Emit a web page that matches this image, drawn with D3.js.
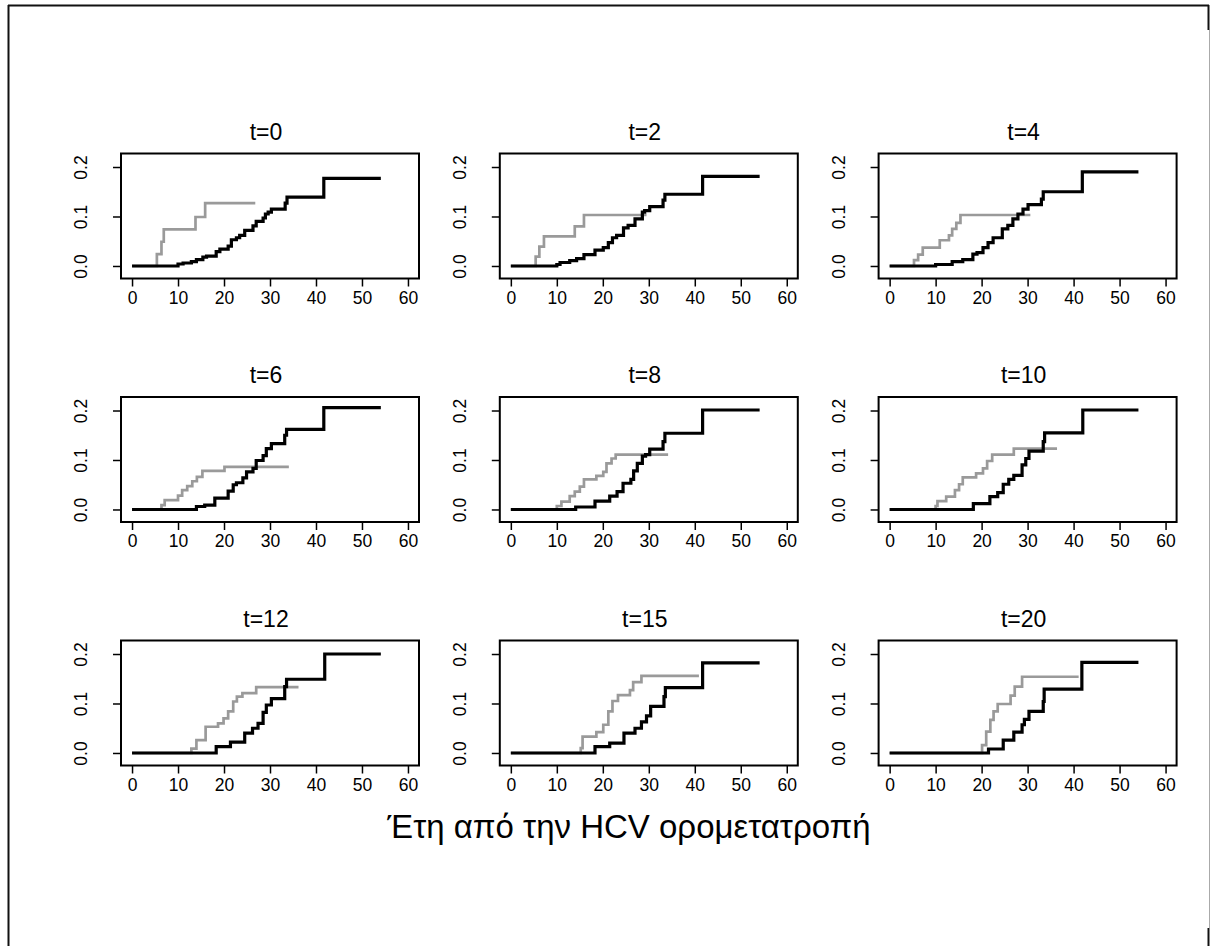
<!DOCTYPE html>
<html>
<head>
<meta charset="utf-8">
<script src="https://cdn.jsdelivr.net/npm/d3@7"></script>
<style>
  html, body { margin: 0; padding: 0; background: #fff; }
  svg { display: block; }
  text { font-family: "Liberation Sans", Arial, Helvetica, sans-serif; fill: #000; }
</style>
</head>
<body>
<svg id="chart" width="1211" height="946"></svg>
<script>
// Panel titles (time of landmark, years)
const panelTitles = ["t=0", "t=2", "t=4", "t=6", "t=8", "t=10", "t=12", "t=15", "t=20"];

// Axis ticks
const xTicks = [0, 10, 20, 30, 40, 50, 60];
const yTicks = [0.0, 0.1, 0.2];
const xLabel = "Έτη από την HCV ορομετατροπή";

// Cumulative incidence step curves: [years, probability]
// grey curve per panel
const grey_t0  = [[0,0],[5.4,0.024],[6.4,0.049],[6.9,0.074],[13.8,0.099],[15.9,0.127],[26.8,0.127]];
const grey_t2  = [[0,0],[5.4,0.019],[6.2,0.039],[7.2,0.060],[13.9,0.080],[15.9,0.103],[29.5,0.103]];
const grey_t4  = [[0,0],[5.3,0.012],[6.2,0.023],[7.2,0.037],[10.9,0.052],[12.9,0.062],[13.6,0.075],[14.5,0.087],[15.4,0.103],[30.6,0.103]];
const grey_t6  = [[0,0],[6.4,0.009],[7.1,0.019],[10.0,0.028],[10.9,0.039],[12.0,0.047],[13.1,0.057],[14.1,0.066],[15.3,0.078],[20.1,0.086],[34.1,0.086]];
const grey_t8  = [[0,0],[10.0,0.007],[11.0,0.016],[12.8,0.027],[13.9,0.036],[15.0,0.046],[15.9,0.061],[18.6,0.068],[20.1,0.076],[20.8,0.093],[21.9,0.103],[22.8,0.111],[34.2,0.111]];
const grey_t10 = [[0,0],[10.0,0.007],[10.4,0.017],[12.3,0.026],[14.2,0.039],[15.1,0.051],[15.9,0.065],[18.8,0.073],[20.3,0.083],[21.2,0.098],[22.3,0.111],[27.0,0.123],[36.4,0.123]];
const grey_t12 = [[0,0],[12.9,0.009],[14.0,0.026],[16.0,0.053],[18.7,0.060],[19.9,0.070],[20.9,0.084],[22.0,0.104],[22.8,0.114],[24.0,0.121],[27.0,0.133],[36.2,0.133]];
const grey_t15 = [[0,0],[15.2,0.010],[15.6,0.033],[18.6,0.042],[20.1,0.057],[21.2,0.084],[22.1,0.105],[23.3,0.117],[25.9,0.127],[26.6,0.143],[28.4,0.156],[40.9,0.156]];
const grey_t20 = [[0,0],[20.1,0.016],[21.0,0.043],[21.9,0.067],[22.6,0.084],[23.5,0.099],[26.3,0.116],[27.2,0.134],[28.8,0.154],[41.1,0.154]];

// black curve per panel
const black_t0  = [[0,0],[10.0,0.004],[11.1,0.006],[12.9,0.009],[14.0,0.013],[15.4,0.018],[16.2,0.020],[18.3,0.029],[19.1,0.034],[20.9,0.040],[21.6,0.053],[22.7,0.057],[23.4,0.062],[24.5,0.072],[26.3,0.081],[27.0,0.090],[28.5,0.097],[29.0,0.105],[29.6,0.109],[30.3,0.115],[33.3,0.127],[33.7,0.139],[41.7,0.177],[54.1,0.177]];
const black_t2  = [[0,0],[10.0,0.003],[10.7,0.007],[12.8,0.011],[14.3,0.015],[15.9,0.023],[18.3,0.032],[20.1,0.037],[21.2,0.047],[22.1,0.057],[23.0,0.062],[24.5,0.077],[25.5,0.082],[27.0,0.095],[28.6,0.109],[29.1,0.112],[30.2,0.120],[33.1,0.133],[33.5,0.145],[41.7,0.181],[54.1,0.181]];
const black_t4  = [[0,0],[10.0,0.003],[13.6,0.009],[15.9,0.013],[18.1,0.024],[19.0,0.027],[20.3,0.037],[21.4,0.047],[22.5,0.057],[24.5,0.075],[25.7,0.082],[26.8,0.095],[27.9,0.105],[29.0,0.115],[30.1,0.124],[33.0,0.135],[33.4,0.150],[41.9,0.190],[54.1,0.190]];
const black_t6  = [[0,0],[14.0,0.006],[15.8,0.009],[18.0,0.023],[20.9,0.037],[22.0,0.050],[22.7,0.054],[24.1,0.064],[24.9,0.076],[26.3,0.083],[27.0,0.099],[28.5,0.109],[29.2,0.123],[30.3,0.133],[33.2,0.150],[33.6,0.162],[41.7,0.206],[54.1,0.206]];
const black_t8  = [[0,0],[14.1,0.005],[18.3,0.017],[21.5,0.027],[23.1,0.036],[24.4,0.053],[26.1,0.061],[26.7,0.078],[27.5,0.093],[28.6,0.108],[29.3,0.111],[30.2,0.122],[33.1,0.137],[33.5,0.154],[41.7,0.201],[54.1,0.201]];
const black_t10 = [[0,0],[18.2,0.012],[21.8,0.026],[23.5,0.034],[24.7,0.051],[25.9,0.061],[27.0,0.069],[28.8,0.090],[29.6,0.103],[30.3,0.118],[33.4,0.137],[33.7,0.155],[42.0,0.201],[54.1,0.201]];
const black_t12 = [[0,0],[18.3,0.013],[21.4,0.022],[24.5,0.040],[26.2,0.050],[27.4,0.060],[28.5,0.082],[29.2,0.097],[30.3,0.110],[33.2,0.134],[33.6,0.149],[41.9,0.200],[54.1,0.200]];
const black_t15 = [[0,0],[18.3,0.013],[21.5,0.020],[24.6,0.040],[27.0,0.050],[28.4,0.063],[29.5,0.075],[30.4,0.094],[33.3,0.114],[33.6,0.132],[41.7,0.182],[54.1,0.182]];
const black_t20 = [[0,0],[21.5,0.008],[24.7,0.026],[27.0,0.042],[28.8,0.057],[29.3,0.068],[30.3,0.084],[33.4,0.104],[33.6,0.129],[41.8,0.183],[54.1,0.183]];

const greyCurves  = [grey_t0, grey_t2, grey_t4, grey_t6, grey_t8, grey_t10, grey_t12, grey_t15, grey_t20];
const blackCurves = [black_t0, black_t2, black_t4, black_t6, black_t8, black_t10, black_t12, black_t15, black_t20];

// ---- layout ----
const svg = d3.select("#chart");
const colLeft = [121, 499.8, 878.6];
const rowTop = [153.5, 397, 640.5];
const boxW = 298, boxH = 125;

// outer frame
const frame = svg.append("g");
frame.append("line").attr("x1", 8).attr("y1", 5.5).attr("x2", 1209).attr("y2", 5.5)
  .attr("stroke", "#111").attr("stroke-width", 2);
frame.append("line").attr("x1", 8.5).attr("y1", 5).attr("x2", 8.5).attr("y2", 946)
  .attr("stroke", "#111").attr("stroke-width", 2);
frame.append("line").attr("x1", 1208.5).attr("y1", 5).attr("x2", 1208.5).attr("y2", 30)
  .attr("stroke", "#111").attr("stroke-width", 2);
frame.append("line").attr("x1", 1209.5).attr("y1", 30).attr("x2", 1209.5).attr("y2", 928)
  .attr("stroke", "#aaa").attr("stroke-width", 1);
frame.append("line").attr("x1", 1208.5).attr("y1", 928).attr("x2", 1208.5).attr("y2", 946)
  .attr("stroke", "#111").attr("stroke-width", 2);

panelTitles.forEach((title, i) => {
  const left = colLeft[i % 3];
  const top = rowTop[Math.floor(i / 3)];
  const x = d3.scaleLinear().domain([-2.4, 62.4]).range([left, left + boxW]);
  const y = d3.scaleLinear().domain([-0.0253, 0.2273]).range([top + boxH, top]);

  const g = svg.append("g");

  // title
  g.append("text")
    .attr("x", left + boxW / 2 - 4).attr("y", top - 14)
    .attr("text-anchor", "middle")
    .style("font-size", "23px")
    .text(title);

  // x axis
  const xAxis = d3.axisBottom(x).tickValues(xTicks).tickFormat(d3.format("d"))
    .tickSize(8).tickSizeOuter(0).tickPadding(5);
  const gx = g.append("g").attr("transform", `translate(0,${top + boxH})`).call(xAxis);
  gx.select(".domain").remove();
  gx.selectAll(".tick line").attr("stroke", "#000").attr("stroke-width", 1.5);
  gx.selectAll(".tick text").style("font-size", "17.5px").attr("fill", "#000")
    .style("font-family", "'Liberation Sans', Arial, sans-serif");

  // y axis with rotated labels
  const yAxis = d3.axisLeft(y).tickValues(yTicks).tickFormat(d3.format(".1f"))
    .tickSize(8).tickSizeOuter(0);
  const gy = g.append("g").attr("transform", `translate(${left},0)`).call(yAxis);
  gy.select(".domain").remove();
  gy.selectAll(".tick line").attr("stroke", "#000").attr("stroke-width", 1.5);
  gy.selectAll(".tick text")
    .attr("x", null).attr("dy", null)
    .attr("transform", "translate(-40,0) rotate(-90)")
    .attr("text-anchor", "middle")
    .attr("dominant-baseline", "central")
    .style("font-size", "17.5px").attr("fill", "#000")
    .style("font-family", "'Liberation Sans', Arial, sans-serif");

  const line = d3.line()
    .x(d => x(d[0])).y(d => y(d[1]))
    .curve(d3.curveStepAfter);

  g.append("path").datum(greyCurves[i])
    .attr("d", line).attr("fill", "none")
    .attr("stroke", "#9a9a9a").attr("stroke-width", 2.7);

  g.append("path").datum(blackCurves[i])
    .attr("d", line).attr("fill", "none")
    .attr("stroke", "#000").attr("stroke-width", 3.2);

  // plot box
  g.append("rect")
    .attr("x", left).attr("y", top).attr("width", boxW).attr("height", boxH)
    .attr("fill", "none").attr("stroke", "#000").attr("stroke-width", 2);
});

// common x-axis label
svg.append("text")
  .attr("x", 629).attr("y", 838)
  .attr("text-anchor", "middle")
  .style("font-size", "33px")
  .text(xLabel);
</script>
</body>
</html>
